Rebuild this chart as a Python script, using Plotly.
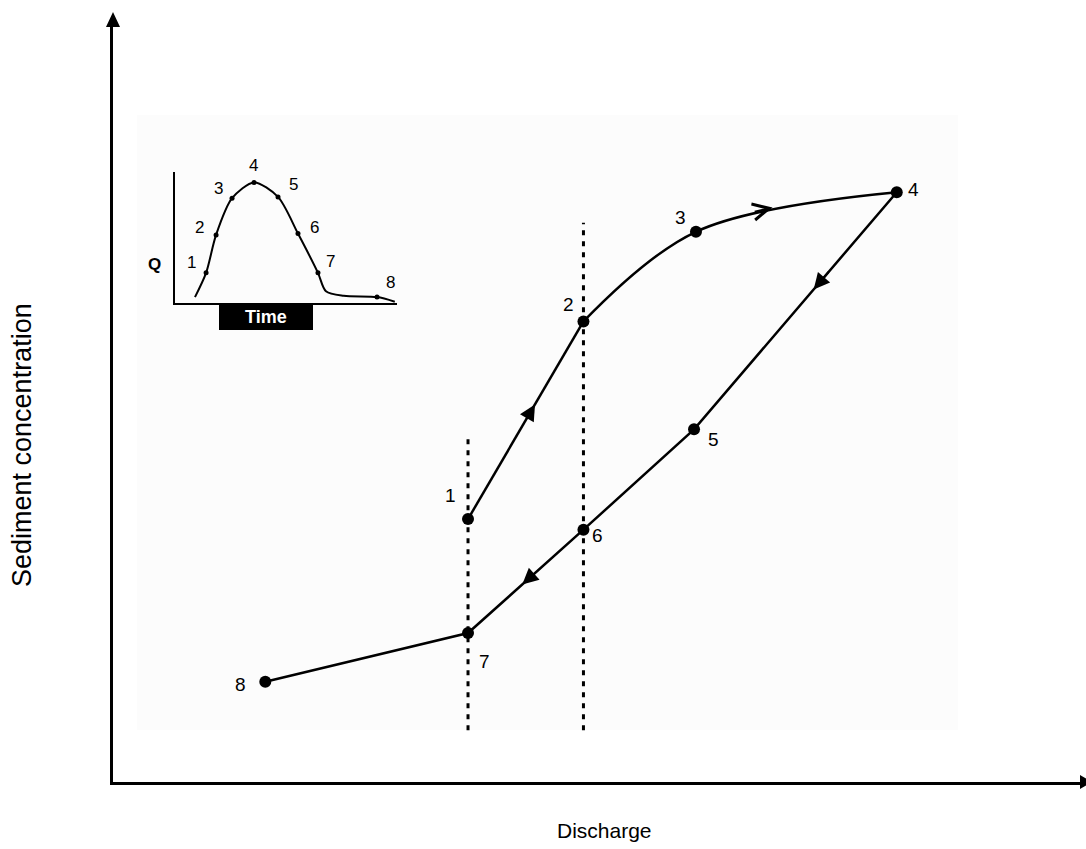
import numpy as np
import plotly.graph_objects as go

W, H = 1086, 849

# Hysteresis loop: discharge vs sediment concentration at stages 1-8
stage = ["1", "2", "3", "4", "5", "6", "7", "8"]
discharge = [36.6, 48.5, 60.1, 80.8, 59.9, 48.5, 36.6, 15.7]
concentration = [34.6, 60.6, 72.4, 77.6, 46.4, 33.2, 19.6, 13.2]

# Label offsets (pixels) for each stage number
label_dx = [-18, -15, -15, 17, 19, 14, 16, -25]
label_dy = [24, 17, 14, 3, -10, -6, -28, -3]

# Vertical reference lines at the discharge of stages 1/7 and 2/6
ref_discharge = [36.6, 48.5]
ref_top = [45.4, 73.6]
ref_bottom = 6.8

# Inset hydrograph: Q against time
inset_time = [0.9, 1.4, 1.85, 2.57, 3.56, 4.64, 5.54, 6.44, 6.8, 7.6, 9.1, 9.9]
inset_q = [0.45, 2.3, 5.2, 8.0, 9.2, 8.1, 5.3, 2.3, 0.9, 0.55, 0.45, 0.1]
inset_stage_idx = [1, 2, 3, 4, 5, 6, 7, 10]
inset_label_dx = [-15, -17, -14, -1, 15, 17, 13, 13]
inset_label_dy = [10, 7, 10, 17, 12, 6, 11, 15]

FONT = "Liberation Sans, Arial, sans-serif"


def paper_x(p):
    return p / W


def paper_y(p):
    return 1 - p / H


fig = go.Figure()

# Loop path: rising limb 1-2 (straight), 2-3-4 (curved), falling limb 4-8
fig.add_trace(go.Scatter(x=discharge[0:2], y=concentration[0:2], mode="lines",
                         line=dict(color="black", width=2.5), hoverinfo="skip"))
fig.add_trace(go.Scatter(x=discharge[1:4], y=concentration[1:4], mode="lines",
                         line=dict(color="black", width=2.5, shape="spline", smoothing=1.0),
                         hoverinfo="skip"))
fig.add_trace(go.Scatter(x=discharge[3:8], y=concentration[3:8], mode="lines",
                         line=dict(color="black", width=2.5), hoverinfo="skip"))

# Dotted reference lines
for xd, yt in zip(ref_discharge, ref_top):
    fig.add_trace(go.Scatter(x=[xd, xd], y=[ref_bottom, yt], mode="lines",
                             line=dict(color="black", width=3, dash="5px,6px"),
                             hoverinfo="skip"))

# Stage points
fig.add_trace(go.Scatter(x=discharge, y=concentration, mode="markers",
                         marker=dict(color="black", size=12, symbol="circle"),
                         hoverinfo="skip"))

# Inset hydrograph
fig.add_trace(go.Scatter(x=inset_time, y=inset_q, mode="lines", xaxis="x2", yaxis="y2",
                         line=dict(color="black", width=2, shape="spline", smoothing=0.8),
                         hoverinfo="skip"))
fig.add_trace(go.Scatter(x=[inset_time[i] for i in inset_stage_idx],
                         y=[inset_q[i] for i in inset_stage_idx],
                         mode="markers", xaxis="x2", yaxis="y2",
                         marker=dict(color="black", size=5), hoverinfo="skip"))

annotations = []
font_lbl = dict(family=FONT, size=19, color="black")
for s, xd, yd, dx, dy in zip(stage, discharge, concentration, label_dx, label_dy):
    annotations.append(dict(x=xd, y=yd, xref="x", yref="y", text=s, showarrow=False,
                            xshift=dx, yshift=dy, font=font_lbl))


# Direction arrows along the loop
def seg_arrow(i, j, t, head=2, size=1.6):
    x0, y0 = discharge[i], concentration[i]
    x1, y1 = discharge[j], concentration[j]
    hx, hy = x0 + (t + 0.04) * (x1 - x0), y0 + (t + 0.04) * (y1 - y0)
    tx, ty = x0 + (t - 0.04) * (x1 - x0), y0 + (t - 0.04) * (y1 - y0)
    return dict(x=hx, y=hy, ax=tx, ay=ty, xref="x", yref="y", axref="x", ayref="y",
                text="", showarrow=True, arrowhead=head, arrowsize=size,
                arrowwidth=2, arrowcolor="black")


annotations.append(seg_arrow(0, 1, 0.54))
annotations.append(seg_arrow(3, 4, 0.37))
annotations.append(seg_arrow(5, 6, 0.49))
# Arrow on the curved 3-4 section
annotations.append(dict(x=68.0, y=75.6, ax=66.0, ay=75.0, xref="x", yref="y",
                        axref="x", ayref="y", text="", showarrow=True, arrowhead=5,
                        arrowsize=1.6, arrowwidth=2, arrowcolor="black"))

# Inset labels
font_in = dict(family=FONT, size=17, color="black")
for k, i in enumerate(inset_stage_idx):
    annotations.append(dict(x=inset_time[i], y=inset_q[i], xref="x2", yref="y2",
                            text=stage[k], showarrow=False,
                            xshift=inset_label_dx[k], yshift=inset_label_dy[k], font=font_in))
annotations.append(dict(x=paper_x(154), y=paper_y(264), xref="paper", yref="paper",
                        xanchor="center", yanchor="middle",
                        text="<b>Q</b>", showarrow=False, font=font_in))
annotations.append(dict(x=paper_x(266), y=paper_y(317), xref="paper", yref="paper",
                        xanchor="center", yanchor="middle",
                        text="<b>Time</b>", showarrow=False,
                        font=dict(family=FONT, size=18, color="white")))

# Axis titles
annotations.append(dict(x=paper_x(604), y=paper_y(830), xref="paper", yref="paper",
                        xanchor="center", yanchor="middle",
                        text="Discharge", showarrow=False,
                        font=dict(family=FONT, size=21, color="black")))
annotations.append(dict(x=paper_x(22), y=paper_y(445), xref="paper", yref="paper",
                        xanchor="center", yanchor="middle",
                        text="Sediment concentration", showarrow=False, textangle=-90,
                        font=dict(family=FONT, size=27, color="black")))

shapes = [
    # light panel behind the loop
    dict(type="rect", xref="paper", yref="paper", x0=paper_x(137), x1=paper_x(958),
         y0=paper_y(730), y1=paper_y(115), fillcolor="#fcfcfc", line=dict(width=0),
         layer="below"),
    # "Time" box
    dict(type="rect", xref="paper", yref="paper", x0=paper_x(219), x1=paper_x(313),
         y0=paper_y(330), y1=paper_y(304), fillcolor="black", line=dict(width=0)),
    # axis arrowheads
    dict(type="path", xref="paper", yref="paper",
         path=f"M {paper_x(106)} {paper_y(27)} L {paper_x(120)} {paper_y(27)} "
              f"L {paper_x(113)} {paper_y(12)} Z",
         fillcolor="black", line=dict(width=0)),
    dict(type="path", xref="paper", yref="paper",
         path=f"M {paper_x(1080)} {paper_y(775)} L {paper_x(1080)} {paper_y(789)} "
              f"L {paper_x(1092)} {paper_y(782)} Z",
         fillcolor="black", line=dict(width=0)),
]

hidden = dict(showgrid=False, zeroline=False, showticklabels=False, ticks="")
fig.update_layout(
    width=W, height=H,
    margin=dict(l=0, r=0, t=0, b=0),
    paper_bgcolor="white", plot_bgcolor="rgba(0,0,0,0)",
    showlegend=False,
    xaxis=dict(domain=[paper_x(113), paper_x(1083)], range=[0, 100], showline=True,
               linewidth=3, linecolor="black", **hidden),
    yaxis=dict(domain=[paper_y(782), paper_y(22)], range=[0, 100], showline=True,
               linewidth=3, linecolor="black", **hidden),
    xaxis2=dict(domain=[paper_x(175), paper_x(397)], range=[0, 10], anchor="y2",
                showline=True, linewidth=1.5, linecolor="black", **hidden),
    yaxis2=dict(domain=[paper_y(303), paper_y(172)], range=[0, 10], anchor="x2",
                showline=True, linewidth=1.5, linecolor="black", **hidden),
    annotations=annotations,
    shapes=shapes,
)

fig.write_html("out.html")
